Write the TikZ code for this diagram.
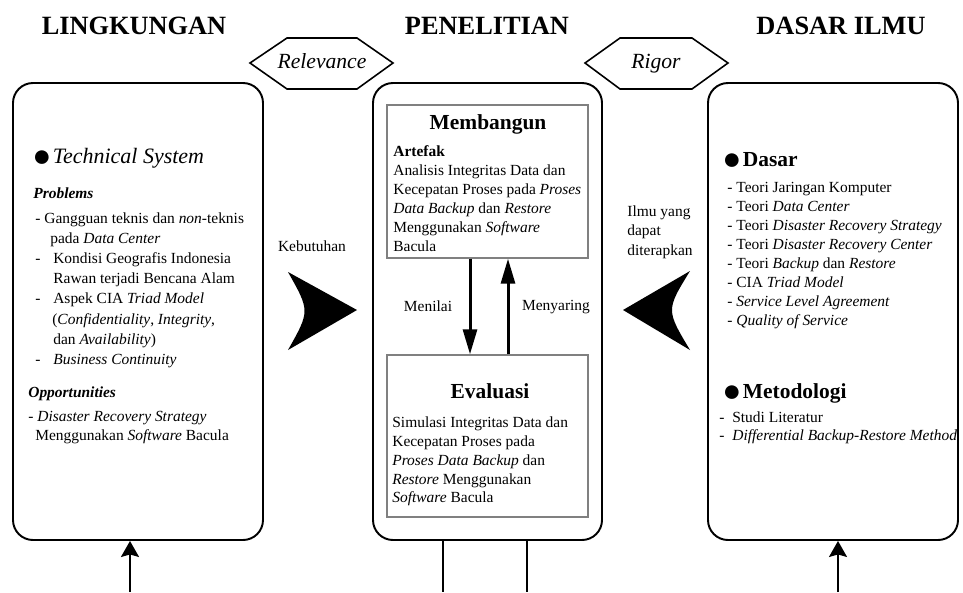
\documentclass[tikz,border=0pt]{standalone}
\usepackage{fontspec}
\setmainfont{Liberation Serif}
\usepackage{tikz}
\usetikzlibrary{positioning}
\usetikzlibrary{fit}
\usetikzlibrary{arrows.meta}
\newcommand{\bigbullet}{\raisebox{-0.7mm}{\fontsize{18pt}{18pt}\selectfont ●}\hspace{0.3mm}}
\tikzset{
font={\fontsize{8.8pt}{10.8pt}\selectfont},
bigbox/.style={draw, line width=1.1pt, rounded corners=0.4cm, inner sep=0pt},
innerbox/.style={draw=gray, line width=0.8pt, inner sep=0pt},
hexa/.style={draw, line width=0.9pt, fill=white},
headtext/.style={font={\fontsize{15pt}{18pt}\selectfont\bfseries}, inner sep=0pt},
titletext/.style={font={\fontsize{12.2pt}{15pt}\selectfont\bfseries}, inner sep=0pt},
hextext/.style={font={\fontsize{12.3pt}{15pt}\selectfont\itshape}, inner sep=0pt},
body/.style={align=left, inner sep=0pt},
flow/.style={line width=1.7pt, -{Triangle[length=0.5cm, width=0.28cm]}},
feed/.style={line width=1.1pt, -{Stealth[length=0.32cm, width=0.36cm, inset=0.05cm]}},
chevron/.style={fill=black}
}

\begin{document}
\begin{tikzpicture}[x=0.02cm, y=-0.02cm]
    \useasboundingbox (0, 0) rectangle (963, 592);

    % Column headers
    \node [headtext, anchor=north] (lingkungan) at (134, 17) {LINGKUNGAN};
    \node [headtext, anchor=north] (penelitian) at (487, 17) {PENELITIAN};
    \node [headtext, anchor=north] (dasarilmu) at (841, 17) {DASAR ILMU};

    % Relevance hexagon
    \draw [hexa] (250, 63) -- (287, 38) -- (357, 38) -- (393, 63) -- (357, 89) -- (287, 89) -- cycle;
    \node [hextext, anchor=base] (relevance) at (322, 68) {Relevance};
    % Rigor hexagon
    \draw [hexa] (585, 63) -- (620, 38) -- (692, 38) -- (728, 63) -- (692, 89) -- (620, 89) -- cycle;
    \node [hextext, anchor=base] (rigor) at (656, 68) {Rigor};

    % Outer boxes
    \node [bigbox, fit={(13, 83) (263, 540)}] (env) {};
    \node [bigbox, fit={(373, 83) (602, 540)}] (research) {};
    \node [bigbox, fit={(708, 83) (958, 540)}] (kb) {};

    % Left box: technical system
    \node [anchor=base west, inner sep=0pt, font={\fontsize{12.5pt}{15pt}\selectfont}] (techsys) at (32, 163) {\bigbullet\textit{Technical System}};
    \node [anchor=base west, inner sep=0pt] (problems) at (33, 198) {\textbf{\textit{Problems}}};
    \node [body, anchor=north west, font={\fontsize{8.8pt}{11.5pt}\selectfont}] (problist) at (35, 212) {%
      - Gangguan teknis dan \textit{non}-teknis\\
      \hspace*{3mm}pada \textit{Data Center}\\
      \makebox[3.6mm][l]{-}Kondisi Geografis Indonesia\\
      \hspace*{3.6mm}Rawan terjadi Bencana Alam\\
      \makebox[3.6mm][l]{-}Aspek CIA \textit{Triad Model}\\
      \hspace*{3.4mm}(\textit{Confidentiality}, \textit{Integrity},\\
      \hspace*{3.6mm}dan \textit{Availability})\\
      \makebox[3.6mm][l]{-}\textit{Business Continuity}};
    \node [anchor=base west, inner sep=0pt] (opport) at (28, 397) {\textbf{\textit{Opportunities}}};
    \node [body, anchor=north west] (opplist) at (28, 411) {%
      - \textit{Disaster Recovery Strategy}\\
      \hspace*{1.4mm}Menggunakan \textit{Software} Bacula};

    % Center box: build and evaluate
    \node [innerbox, fit={(387, 105) (588, 258)}] (build) {};
    \node [innerbox, fit={(387, 355) (588, 517)}] (eval) {};
    \node [titletext, anchor=base] (buildtitle) at (488, 129) {Membangun};
    \node [body, anchor=north west] (buildtext) at (393, 145) {%
      \textbf{Artefak}\\
      Analisis Integritas Data dan\\
      Kecepatan Proses pada \textit{Proses}\\
      \textit{Data Backup} dan \textit{Restore}\\
      Menggunakan \textit{Software}\\
      Bacula};
    \node [titletext, anchor=base] (evaltitle) at (490, 398) {Evaluasi};
    \node [body, anchor=north west] (evaltext) at (392, 416) {%
      Simulasi Integritas Data dan\\
      Kecepatan Proses pada\\
      \textit{Proses Data Backup} dan\\
      \textit{Restore} Menggunakan\\
      \textit{Software} Bacula};

    % Assess and refine arrows
    \coordinate (assessx) at (470, 0);
    \coordinate (refinex) at (508, 0);
    \draw [flow] (assessx |- build.south) -- (assessx |- eval.north);
    \draw [flow] (refinex |- eval.north) -- (refinex |- build.south);
    \node [anchor=north, inner sep=0pt] (menilai) at (428, 300) {Menilai};
    \node [anchor=north, inner sep=0pt] (menyaring) at (556, 300) {Menyaring};

    % Needs chevron
    \fill [chevron] (288, 272) -- (357, 310) -- (288, 350) .. controls (310, 311) .. (288, 272) -- cycle;
    \node [anchor=north, inner sep=0pt] (kebutuhan) at (312, 240) {Kebutuhan};
    % Applicable knowledge chevron
    \fill [chevron] (690, 271) -- (623, 310) -- (690, 350) .. controls (666, 310) .. (690, 271) -- cycle;
    \node [body, anchor=north west, font={\fontsize{8.8pt}{11.3pt}\selectfont}] (ilmu) at (627, 205) {Ilmu yang\\dapat\\diterapkan};

    % Right box: foundations
    \node [titletext, anchor=base west] (dasar) at (722, 166) {\bigbullet Dasar};
    \node [body, anchor=north west] (dasarlist) at (727, 182) {%
      - Teori Jaringan Komputer\\
      - Teori \textit{Data Center}\\
      - Teori \textit{Disaster Recovery Strategy}\\
      - Teori \textit{Disaster Recovery Center}\\
      - Teori \textit{Backup} dan \textit{Restore}\\
      - CIA \textit{Triad Model}\\
      - \textit{Service Level Agreement}\\
      - \textit{Quality of Service}};
    \node [titletext, anchor=base west] (metodologi) at (722, 398) {\bigbullet Metodologi};
    \node [body, anchor=north west, font={\fontsize{8.8pt}{10.5pt}\selectfont}] (metlist) at (719, 411) {%
      \makebox[2.6mm][l]{-}Studi Literatur\\
      \makebox[2.6mm][l]{-}\textit{Differential Backup-Restore Method}};

    % Bottom connectors
    \coordinate (envin) at (130, 592);
    \coordinate (kbin) at (838, 592);
    \coordinate (outa) at (443, 592);
    \coordinate (outb) at (527, 592);
    \draw [feed] (envin) -- (envin |- env.south);
    \draw [feed] (kbin) -- (kbin |- kb.south);
    \draw [line width=1.1pt] (outa |- research.south) -- (outa);
    \draw [line width=1.1pt] (outb |- research.south) -- (outb);
  \end{tikzpicture}
\end{document}
